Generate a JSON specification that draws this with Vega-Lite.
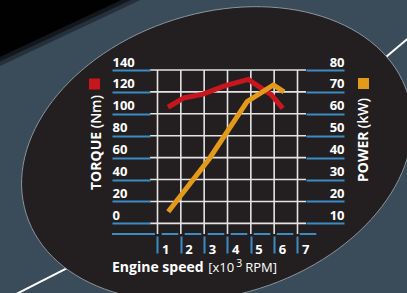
{
  "$schema": "https://vega.github.io/schema/vega-lite/v6.json",
  "width": 156,
  "height": 164,
  "autosize": {"type": "none"},
  "padding": {"left": 150, "top": 70, "right": 101, "bottom": 59},
  "background": "#3a4b5a",
  "config": {
    "view": {"stroke": null},
    "axis": {"labelFlush": false, "labelOverlap": false, "domain": false, "grid": false,
             "labelColor": "#ffffff", "labelFont": "Open Sans", "labelFontWeight": "bold", "labelFontSize": 13,
             "tickColor": "#3a8cc2", "tickWidth": 2, "title": null}
  },
  "datasets": {
    "torque": [
      {"rpm": 1.45, "torque": 106},
      {"rpm": 2.13, "torque": 114.5},
      {"rpm": 2.96, "torque": 118},
      {"rpm": 3.84, "torque": 125.2},
      {"rpm": 4.89, "torque": 131.4},
      {"rpm": 5.87, "torque": 117.5},
      {"rpm": 6.37, "torque": 105}
    ],
    "power": [
      {"rpm": 1.46, "power": 15.3},
      {"rpm": 3.22, "power": 39.5},
      {"rpm": 4.84, "power": 65.6},
      {"rpm": 5.97, "power": 73.2},
      {"rpm": 6.42, "power": 70.0}
    ],
    "gx": [{"rpm": 1}, {"rpm": 2}, {"rpm": 3}, {"rpm": 4}, {"rpm": 5}, {"rpm": 6}, {"rpm": 7}],
    "gy": [{"torque": 0}, {"torque": 20}, {"torque": 40}, {"torque": 60}, {"torque": 80}, {"torque": 100}, {"torque": 120}, {"torque": 140}],
    "one": [{}]
  },
  "layer": [
    {
      "data": {"name": "one"},
      "mark": {"type": "point", "filled": true, "opacity": 0.35, "color": "#000000", "strokeWidth": 0, "size": 40000,
               "shape": "M -0.95 -0.45 L 1.08 -0.45 L -0.95 0.504 Z"},
      "encoding": {
        "x": {"datum": -2.536, "type": "quantitative", "scale": {"domain": [0.6786, 7.3643], "nice": false, "zero": false}, "axis": null},
        "y": {"datum": 181.06, "type": "quantitative", "scale": {"domain": [-9.72, 140], "nice": false, "zero": false}, "axis": null}
      }
    },
    {
      "data": {"name": "one"},
      "mark": {"type": "point", "filled": true, "opacity": 0.5, "color": "#000000", "strokeWidth": 0, "size": 40000,
               "shape": "M -0.95 -0.45 L 0.984 -0.45 L -0.95 0.459 Z"},
      "encoding": {
        "x": {"datum": -2.536, "type": "quantitative", "scale": {"domain": [0.6786, 7.3643], "nice": false, "zero": false}, "axis": null},
        "y": {"datum": 181.06, "type": "quantitative", "scale": {"domain": [-9.72, 140], "nice": false, "zero": false}, "axis": null}
      }
    },
    {
      "data": {"name": "one"},
      "mark": {"type": "point", "filled": true, "opacity": 0.93, "color": "#000000", "strokeWidth": 0, "size": 40000,
               "shape": "M -0.95 -0.45 L 0.888 -0.45 L -0.95 0.414 Z"},
      "encoding": {
        "x": {"datum": -2.536, "type": "quantitative", "scale": {"domain": [0.6786, 7.3643], "nice": false, "zero": false}, "axis": null},
        "y": {"datum": 181.06, "type": "quantitative", "scale": {"domain": [-9.72, 140], "nice": false, "zero": false}, "axis": null}
      }
    },
    {
      "data": {"name": "one"},
      "mark": {"type": "rule", "color": "#ffffff", "strokeWidth": 2},
      "encoding": {
        "x": {"datum": -5.75, "type": "quantitative", "scale": {"domain": [0.6786, 7.3643], "nice": false, "zero": false}, "axis": null},
        "y": {"datum": -72.07, "type": "quantitative", "scale": {"domain": [-9.72, 140], "nice": false, "zero": false}, "axis": null},
        "x2": {"datum": -1.464},
        "y2": {"datum": -25.6}
      }
    },
    {
      "data": {"name": "one"},
      "mark": {"type": "rule", "color": "#ffffff", "strokeWidth": 2},
      "encoding": {
        "x": {"datum": 10.107, "type": "quantitative", "scale": {"domain": [0.6786, 7.3643], "nice": false, "zero": false}, "axis": null},
        "y": {"datum": 139.6, "type": "quantitative", "scale": {"domain": [-9.72, 140], "nice": false, "zero": false}, "axis": null},
        "x2": {"datum": 12.25},
        "y2": {"datum": 178.0}
      }
    },
    {
      "data": {"name": "one"},
      "mark": {"type": "point", "filled": true, "opacity": 1, "color": "#231f20", "stroke": "#8c949c", "strokeWidth": 1, "size": 160000,
               "shape": "M 0.9537 -0.3007 C 1.0708 0.0707 0.7387 0.5063 0.212 0.6724 C -0.3147 0.8385 -0.8366 0.6721 -0.9537 0.3007 C -1.0708 -0.0707 -0.7387 -0.5063 -0.212 -0.6724 C 0.3147 -0.8385 0.8366 -0.6721 0.9537 -0.3007 Z"},
      "encoding": {
        "x": {"datum": 3.55, "type": "quantitative", "scale": {"domain": [0.6786, 7.3643], "nice": false, "zero": false}, "axis": null},
        "y": {"datum": 63.3, "type": "quantitative", "scale": {"domain": [-9.72, 140], "nice": false, "zero": false}, "axis": null}
      }
    },
    {
      "data": {"name": "gx"},
      "mark": {"type": "rule", "color": "#e4e4e4", "strokeWidth": 1.6},
      "encoding": {
        "x": {"field": "rpm", "type": "quantitative", "scale": {"domain": [0.6786, 7.3643], "nice": false, "zero": false},
              "axis": {"orient": "bottom", "zindex": 1, "values": [1, 2, 3, 4, 5, 6, 7], "offset": 2, "tickSize": 17,
                       "labelAlign": "left", "labelBaseline": "alphabetic", "labelPadding": 0, "labelOffset": 4}}
      }
    },
    {
      "data": {"name": "gy"},
      "mark": {"type": "rule", "color": "#e4e4e4", "strokeWidth": 1.6},
      "encoding": {
        "y": {"field": "torque", "type": "quantitative", "scale": {"domain": [-9.72, 140], "nice": false, "zero": false},
              "axis": {"orient": "left", "zindex": 1, "values": [0, 20, 40, 60, 80, 100, 120, 140], "tickSize": 38,
                       "labelAlign": "left", "labelBaseline": "alphabetic", "labelPadding": 0, "labelOffset": -4}}
      }
    },
    {
      "data": {"name": "one"},
      "mark": {"type": "rule", "color": "#3a8cc2", "strokeWidth": 2},
      "encoding": {
        "x": {"datum": -0.95, "type": "quantitative", "scale": {"domain": [0.6786, 7.3643], "nice": false, "zero": false}, "axis": null},
        "y": {"datum": -9.72, "type": "quantitative", "scale": {"domain": [-9.72, 140], "nice": false, "zero": false}, "axis": null},
        "x2": {"datum": 0.893}
      }
    },
    {
      "data": {"name": "one"},
      "mark": {"type": "rule", "color": "#3a8cc2", "strokeWidth": 2, "strokeDash": [16.6, 6.4]},
      "encoding": {
        "x": {"datum": 1.18, "type": "quantitative", "scale": {"domain": [0.6786, 7.3643], "nice": false, "zero": false}, "axis": null},
        "y": {"datum": -9.72, "type": "quantitative", "scale": {"domain": [-9.72, 140], "nice": false, "zero": false}, "axis": null},
        "x2": {"datum": 7.823}
      }
    },
    {
      "data": {"name": "torque"},
      "mark": {"type": "line", "color": "#c8161e", "strokeWidth": 5, "strokeCap": "butt", "strokeJoin": "miter"},
      "encoding": {
        "x": {"field": "rpm", "type": "quantitative", "scale": {"domain": [0.6786, 7.3643], "nice": false, "zero": false}, "axis": null},
        "y": {"field": "torque", "type": "quantitative", "scale": {"domain": [-9.72, 140], "nice": false, "zero": false}, "axis": null}
      }
    },
    {
      "data": {"name": "power"},
      "mark": {"type": "line", "color": "#e39a1a", "strokeWidth": 5, "strokeCap": "butt", "strokeJoin": "miter"},
      "encoding": {
        "x": {"field": "rpm", "type": "quantitative", "scale": {"domain": [0.6786, 7.3643], "nice": false, "zero": false}, "axis": null},
        "y": {"field": "power", "type": "quantitative", "scale": {"domain": [5.14, 80], "nice": false, "zero": false},
              "axis": {"orient": "right", "zindex": 1, "values": [10, 20, 30, 40, 50, 60, 70, 80], "tickSize": 38,
                       "labelAlign": "right", "labelBaseline": "alphabetic", "labelPadding": 0, "labelOffset": -4}}
      }
    },
    {
      "data": {"name": "one"},
      "mark": {"type": "point", "shape": "square", "filled": true, "opacity": 1, "color": "#c8161e", "size": 121},
      "encoding": {
        "x": {"datum": -1.7, "type": "quantitative", "scale": {"domain": [0.6786, 7.3643], "nice": false, "zero": false}, "axis": null},
        "y": {"datum": 127.2, "type": "quantitative", "scale": {"domain": [-9.72, 140], "nice": false, "zero": false}, "axis": null}
      }
    },
    {
      "data": {"name": "one"},
      "mark": {"type": "point", "shape": "square", "filled": true, "opacity": 1, "color": "#e39a1a", "size": 121},
      "encoding": {
        "x": {"datum": 9.829, "type": "quantitative", "scale": {"domain": [0.6786, 7.3643], "nice": false, "zero": false}, "axis": null},
        "y": {"datum": 127.66, "type": "quantitative", "scale": {"domain": [-9.72, 140], "nice": false, "zero": false}, "axis": null}
      }
    },
    {
      "data": {"name": "one"},
      "mark": {"type": "text", "text": "TORQUE", "color": "#ffffff", "font": "Open Sans", "fontSize": 14, "fontWeight": "bold", "align": "left", "baseline": "middle", "angle": 270},
      "encoding": {
        "x": {"datum": -1.606, "type": "quantitative", "scale": {"domain": [0.6786, 7.3643], "nice": false, "zero": false}, "axis": null},
        "y": {"datum": 30.44, "type": "quantitative", "scale": {"domain": [-9.72, 140], "nice": false, "zero": false}, "axis": null}
      }
    },
    {
      "data": {"name": "one"},
      "mark": {"type": "text", "text": "(Nm)", "color": "#ffffff", "font": "Open Sans", "fontSize": 14, "fontWeight": 600, "align": "left", "baseline": "middle", "angle": 270},
      "encoding": {
        "x": {"datum": -1.606, "type": "quantitative", "scale": {"domain": [0.6786, 7.3643], "nice": false, "zero": false}, "axis": null},
        "y": {"datum": 86.77, "type": "quantitative", "scale": {"domain": [-9.72, 140], "nice": false, "zero": false}, "axis": null}
      }
    },
    {
      "data": {"name": "one"},
      "mark": {"type": "text", "text": "POWER", "color": "#ffffff", "font": "Open Sans", "fontSize": 14, "fontWeight": "bold", "align": "left", "baseline": "middle", "angle": 270},
      "encoding": {
        "x": {"datum": 9.829, "type": "quantitative", "scale": {"domain": [0.6786, 7.3643], "nice": false, "zero": false}, "axis": null},
        "y": {"datum": 37.75, "type": "quantitative", "scale": {"domain": [-9.72, 140], "nice": false, "zero": false}, "axis": null}
      }
    },
    {
      "data": {"name": "one"},
      "mark": {"type": "text", "text": "(kW)", "color": "#ffffff", "font": "Open Sans", "fontSize": 14, "fontWeight": 600, "align": "left", "baseline": "middle", "angle": 270},
      "encoding": {
        "x": {"datum": 9.829, "type": "quantitative", "scale": {"domain": [0.6786, 7.3643], "nice": false, "zero": false}, "axis": null},
        "y": {"datum": 86.77, "type": "quantitative", "scale": {"domain": [-9.72, 140], "nice": false, "zero": false}, "axis": null}
      }
    },
    {
      "data": {"name": "one"},
      "mark": {"type": "text", "text": "Engine speed", "color": "#ffffff", "font": "Open Sans", "fontSize": 14, "fontWeight": "bold", "align": "left", "baseline": "alphabetic"},
      "encoding": {
        "x": {"datum": -0.95, "type": "quantitative", "scale": {"domain": [0.6786, 7.3643], "nice": false, "zero": false}, "axis": null},
        "y": {"datum": -44.41, "type": "quantitative", "scale": {"domain": [-9.72, 140], "nice": false, "zero": false}, "axis": null}
      }
    },
    {
      "data": {"name": "one"},
      "mark": {"type": "text", "text": "[x10", "color": "#ffffff", "font": "Open Sans", "fontSize": 13, "fontWeight": "normal", "align": "left", "baseline": "alphabetic"},
      "encoding": {
        "x": {"datum": 3.177, "type": "quantitative", "scale": {"domain": [0.6786, 7.3643], "nice": false, "zero": false}, "axis": null},
        "y": {"datum": -44.41, "type": "quantitative", "scale": {"domain": [-9.72, 140], "nice": false, "zero": false}, "axis": null}
      }
    },
    {
      "data": {"name": "one"},
      "mark": {"type": "text", "text": "3", "color": "#ffffff", "font": "Open Sans", "fontSize": 10.5, "fontWeight": "normal", "align": "left", "baseline": "alphabetic"},
      "encoding": {
        "x": {"datum": 4.37, "type": "quantitative", "scale": {"domain": [0.6786, 7.3643], "nice": false, "zero": false}, "axis": null},
        "y": {"datum": -39.84, "type": "quantitative", "scale": {"domain": [-9.72, 140], "nice": false, "zero": false}, "axis": null}
      }
    },
    {
      "data": {"name": "one"},
      "mark": {"type": "text", "text": "RPM]", "color": "#ffffff", "font": "Open Sans", "fontSize": 13, "fontWeight": "normal", "align": "left", "baseline": "alphabetic"},
      "encoding": {
        "x": {"datum": 4.76, "type": "quantitative", "scale": {"domain": [0.6786, 7.3643], "nice": false, "zero": false}, "axis": null},
        "y": {"datum": -44.41, "type": "quantitative", "scale": {"domain": [-9.72, 140], "nice": false, "zero": false}, "axis": null}
      }
    }
  ],
  "resolve": {"scale": {"x": "independent", "y": "independent"}}
}
